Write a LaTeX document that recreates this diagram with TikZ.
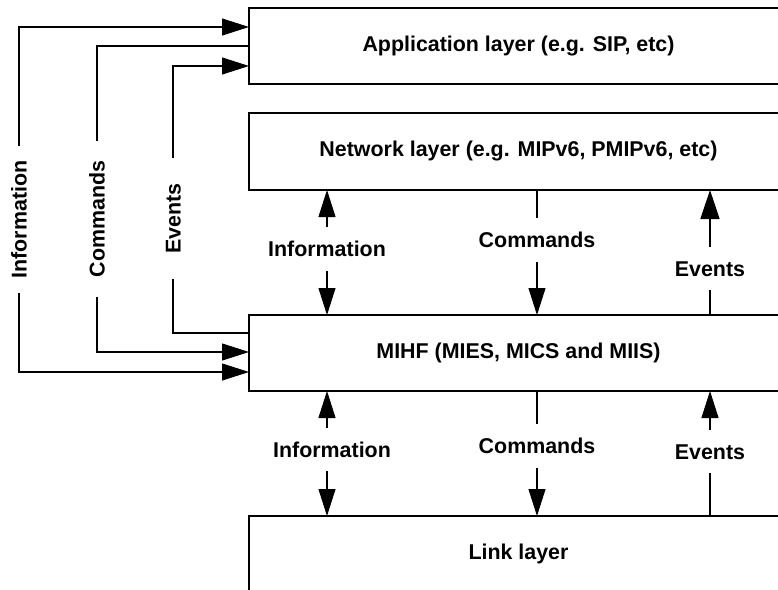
\documentclass[tikz,border=0pt]{standalone}
\usepackage{fontspec}
\setmainfont{Liberation Sans}
\usetikzlibrary{arrows.meta}
\begin{document}
\begin{tikzpicture}[x=0.5pt,y=-0.5pt,
  txt/.style={font=\fontsize{10.7}{12}\bfseries\selectfont},
  box/.style={txt,draw,line width=0.65pt,inner sep=0pt,outer sep=0pt,minimum width=269.5pt},
  lbl/.style={txt,inner xsep=0pt,inner ysep=7pt,outer sep=0pt,text height=7.6pt,text depth=0pt},
  vlbl/.style={txt,rotate=90,inner ysep=0pt,outer sep=0pt,text height=7.6pt,text depth=0pt},
  conn/.style={line width=0.55pt},
  arr/.style={conn,-{Triangle[length=13.5pt,width=8.5pt]}},
  thickconn/.style={line width=0.85pt},
  thickarr/.style={thickconn,-{Triangle[length=14.5pt,width=9.5pt]}},
]
\useasboundingbox (0,0) rectangle (778,590);
\fill[white] (0,0) rectangle (778,590);
\clip (0,0) rectangle (778,590);

% layer boxes
\node[box,minimum height=38pt] (app) at (518.5,46) {Application layer (e.g. SIP, etc)};
\node[box,minimum height=38.5pt] (net) at (518.5,151.5) {Network layer (e.g. MIPv6, PMIPv6, etc)};
\node[box,minimum height=38pt] (mihf) at (518.5,353) {MIHF (MIES, MICS and MIIS)};
\node[box,minimum height=38pt] (link) at (518.5,554) {Link layer};

% left vertical labels
\node[vlbl,inner xsep=7.25pt] (li) at (19,219.5) {Information};
\node[vlbl,inner xsep=9.75pt] (lc) at (97,219) {Commands};
\node[vlbl,inner xsep=12.75pt] (le) at (173,218.5) {Events};

\draw[arr] (li.east) |- (app.west |- 0,27);
\draw[arr] (li.west) |- (mihf.west |- 0,372);
\draw[conn] (app.west) -| (lc.east);
\draw[arr] (lc.west) |- (mihf.west |- 0,352);
\draw[arr] (le.east) |- (app.west |- 0,66);
\draw[conn] (mihf.west |- 0,333) -| (le.west);

% between network layer and MIHF
\node[lbl] (mi1) at (327,249) {Information};
\draw[arr] (mi1.north) -- (net.south -| mi1.north);
\draw[arr] (mi1.south) -- (mihf.north -| mi1.south);
\node[lbl] (mc1) at (537,240) {Commands};
\draw[conn] (net.south -| mc1.north) -- (mc1.north);
\draw[arr] (mc1.south) -- (mihf.north -| mc1.south);
\node[lbl] (me1) at (710,268.5) {Events};
\draw[thickarr] (me1.north) -- (net.south -| me1.north);
\draw[thickconn] (mihf.north -| me1.south) -- (me1.south);

% between MIHF and link layer
\node[lbl] (mi2) at (332,449.5) {Information};
\draw[arr] (mi2.north -| mi1) -- (mihf.south -| mi1);
\draw[arr] (mi2.south -| mi1) -- (link.north -| mi1);
\node[lbl] (mc2) at (537,446) {Commands};
\draw[conn] (mihf.south -| mc2) -- (mc2.north);
\draw[arr] (mc2.south) -- (link.north -| mc2);
\node[lbl] (me2) at (710,451.5) {Events};
\draw[arr] (me2.north) -- (mihf.south -| me2);
\draw[conn] (link.north -| me2) -- (me2.south);
\end{tikzpicture}
\end{document}
